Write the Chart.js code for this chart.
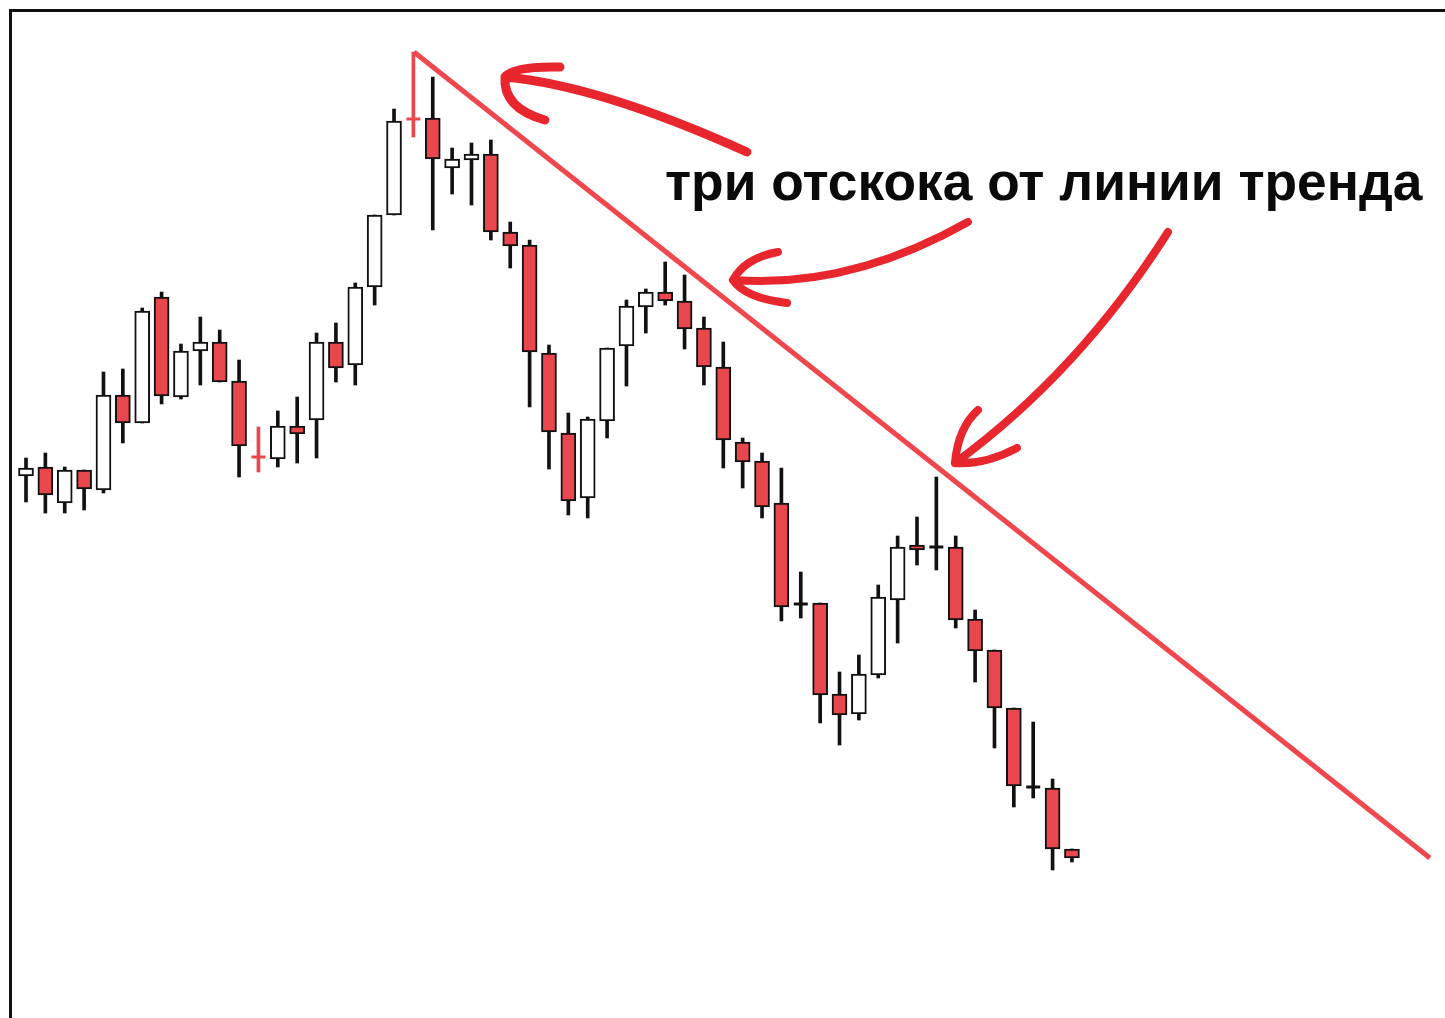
<!DOCTYPE html>
<html>
<head>
<meta charset="utf-8">
<script src="https://cdn.jsdelivr.net/npm/chart.js@4"></script>
<style>
  html, body { margin: 0; padding: 0; background: #fff; overflow: hidden; }
  #frame {
    position: absolute; left: 9px; top: 9px;
    width: 1436px; height: 1009px; box-sizing: border-box;
    border-top: 3px solid #111; border-left: 3px solid #111;
  }
  canvas { display: block; }
</style>
</head>
<body>
<div id="frame"><canvas id="grafico" width="1433" height="1006"></canvas></div>
<script>
// candle data (price units), one entry per bar
const opens  = [524, 533, 497, 530, 510, 605, 577, 703, 603, 649, 658, 619, 543, 541, 574, 580, 658, 635, 713, 785,
                881, 882, 832, 840, 846, 768, 755, 647, 567, 502, 579, 654, 693, 708, 699, 672, 633, 558, 539, 497,
                396, 397, 306, 286, 325, 400, 455, 453, 453, 381, 350, 292, 213, 212, 151];
const highs  = [542, 547, 533, 530, 628, 631, 692, 708, 656, 683, 670, 640, 573, 589, 603, 667, 677, 717, 785, 891,
                948, 923, 852, 857, 860, 778, 760, 655, 587, 583, 652, 700, 711, 738, 725, 683, 658, 562, 547, 532,
                428, 397, 328, 345, 415, 464, 483, 523, 464, 390, 350, 292, 278, 221, 151];
const lows   = [498, 487, 487, 490, 507, 557, 577, 596, 601, 615, 618, 523, 528, 533, 537, 542, 618, 615, 695, 785,
                863, 770, 806, 795, 760, 732, 593, 531, 485, 482, 562, 614, 667, 695, 651, 615, 532, 512, 482, 379,
                382, 277, 255, 280, 322, 357, 435, 430, 372, 318, 252, 193, 202, 130, 138];
const closes = [532, 505, 530, 511, 605, 577, 689, 604, 649, 658, 618, 554, 543, 574, 566, 658, 632, 713, 785, 879,
                881, 841, 841, 846, 768, 754, 648, 568, 499, 581, 652, 694, 708, 699, 671, 633, 560, 538, 493, 393,
                396, 305, 285, 326, 403, 453, 450, 453, 380, 349, 292, 214, 213, 151, 142];
// dojis the author marked in red
const markedDoji = [12, 20];

// trend line end points (bar index, price)
const trendX = [20.03, 72.48];
const trendY = [948, 142];

const noteText = 'три отскока от линии тренда';
const noteAt = { x: 32.99, y: 800 };

// hand drawn arrows: shaft [start, control, tip] and two barbs [control, end], in (bar index, price)
const arrows = [
    { shaft: [[37.22, 848], [29.63, 914.5], [24.73, 923]],
      barbs: [[[25.14, 934], [27.57, 933]], [[24.62, 892], [26.79, 880]]], width: 9 },
    { shaft: [[48.63, 778], [42.51, 711], [36.50, 720]],
      barbs: [[[37.12, 742], [38.82, 748]], [[37.12, 702], [39.29, 697]]], width: 8 },
    { shaft: [[58.96, 768], [54.34, 627.5], [47.96, 537]],
      barbs: [[[48.12, 572], [49.15, 590]], [[49.51, 535], [51.16, 552]]], width: 8 }
];

const RED = '#e8474e';
const isDoji = (i) => opens[i] === closes[i];

const bodyData = [], bodyFill = [];
const wickData = [], wickColor = [];
const dojiData = [], dojiColor = [];
opens.forEach(function (o, i) {
    const c = closes[i];
    const marked = markedDoji.includes(i);
    wickData.push({ x: i, y: [lows[i], highs[i]] });
    wickColor.push(marked ? RED : '#111');
    if (isDoji(i)) {
        dojiData.push({ x: i, y: c });
        dojiColor.push(marked ? RED : '#111');
    } else {
        bodyData.push({ x: i, y: [Math.min(o, c), Math.max(o, c)] });
        bodyFill.push(c < o ? RED : '#ffffff');
    }
});

const annotations = {
    id: 'annotations',
    afterDatasetsDraw(chart) {
        const ctx = chart.ctx;
        const sx = chart.scales.x, sy = chart.scales.y;
        const P = (p) => [sx.getPixelForValue(p[0]), sy.getPixelForValue(p[1])];

        ctx.save();
        ctx.strokeStyle = '#e8262d';
        ctx.lineCap = 'round';
        ctx.lineJoin = 'round';
        arrows.forEach(function (a) {
            ctx.lineWidth = a.width;
            const s0 = P(a.shaft[0]), s1 = P(a.shaft[1]), s2 = P(a.shaft[2]);
            ctx.beginPath();
            ctx.moveTo(s0[0], s0[1]);
            ctx.quadraticCurveTo(s1[0], s1[1], s2[0], s2[1]);
            a.barbs.forEach(function (b) {
                const c = P(b[0]), e = P(b[1]);
                ctx.moveTo(s2[0], s2[1]);
                ctx.quadraticCurveTo(c[0], c[1], e[0], e[1]);
            });
            ctx.stroke();
        });

        // caption, sized to the width it takes in the picture
        ctx.font = 'bold 100px "Liberation Sans", Arial, sans-serif';
        const w100 = ctx.measureText(noteText).width;
        const size = 100 * 757 / w100;
        ctx.font = 'bold ' + size.toFixed(1) + 'px "Liberation Sans", Arial, sans-serif';
        ctx.fillStyle = '#0a0a0a';
        ctx.textBaseline = 'alphabetic';
        const t = P([noteAt.x, noteAt.y]);
        ctx.fillText(noteText, t[0], t[1]);
        ctx.restore();
    }
};

const ctx = document.getElementById('grafico').getContext('2d');
new Chart(ctx, {
    data: {
        datasets: [
            {
                type: 'line',
                label: 'trend',
                data: trendX.map((x, k) => ({ x: x, y: trendY[k] })),
                borderColor: '#ee474e',
                borderWidth: 5,
                pointRadius: 0,
                order: 0
            },
            {
                type: 'scatter',
                label: 'doji',
                data: dojiData,
                pointStyle: 'line',
                pointRadius: 7,
                borderWidth: 3,
                borderColor: dojiColor,
                backgroundColor: dojiColor,
                order: 1
            },
            {
                type: 'bar',
                label: 'body',
                data: bodyData,
                backgroundColor: bodyFill,
                borderColor: '#111',
                borderWidth: 2,
                borderSkipped: false,
                barThickness: 15,
                grouped: false,
                order: 2
            },
            {
                type: 'bar',
                label: 'wick',
                data: wickData,
                backgroundColor: wickColor,
                borderWidth: 0,
                barThickness: 3,
                grouped: false,
                order: 3
            }
        ]
    },
    options: {
        responsive: false,
        animation: false,
        devicePixelRatio: 1,
        layout: { autoPadding: false, padding: 0 },
        plugins: {
            legend: { display: false },
            tooltip: { enabled: false }
        },
        scales: {
            x: { type: 'linear', offset: false, min: -0.7228, max: 73.26, display: false },
            y: { type: 'linear', min: -18, max: 988, display: false }
        }
    },
    plugins: [annotations]
});
</script>
</body>
</html>
